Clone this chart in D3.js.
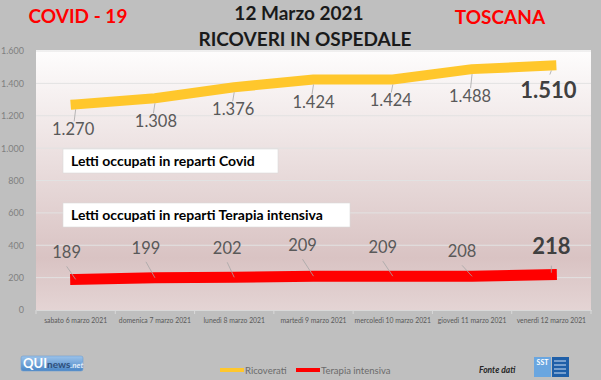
<!DOCTYPE html>
<html><head><meta charset="utf-8">
<script src="https://cdn.jsdelivr.net/npm/d3@7"></script>
<style>html,body{margin:0;padding:0;background:#bfbfbf;}svg{display:block;}</style>
</head><body>
<script>
const categories = ["sabato 6 marzo 2021","domenica 7 marzo 2021","lunedì 8 marzo 2021","martedì 9 marzo 2021","mercoledì 10 marzo 2021","giovedì 11 marzo 2021","venerdì 12 marzo 2021"];
const ricoverati = [1270,1308,1376,1424,1424,1488,1510];
const terapiaIntensiva = [189,199,202,209,209,208,218];
const yTicks = [0,200,400,600,800,1000,1200,1400,1600];
const seriesNames = ["Ricoverati","Terapia intensiva"];
const titleLines = ["12 Marzo 2021","RICOVERI IN OSPEDALE"];
const boxTexts = ["Letti occupati in reparti Covid","Letti occupati in reparti Terapia intensiva"];

const W=601,H=380;
const F="Lato, 'Open Sans', sans-serif";
const svg=d3.select("body").append("svg").attr("width",W).attr("height",H);
svg.append("rect").attr("width",W).attr("height",H).attr("fill","#bfbfbf");

const defs=svg.append("defs");
const g1=defs.append("linearGradient").attr("id","bg").attr("x1",0).attr("y1",0).attr("x2",0).attr("y2",1);
g1.append("stop").attr("offset","0%").attr("stop-color","#fefdfd");
g1.append("stop").attr("offset","35%").attr("stop-color","#eee4e4");
g1.append("stop").attr("offset","80%").attr("stop-color","#d9c3c3");
g1.append("stop").attr("offset","100%").attr("stop-color","#e4d4d4");
const g2=defs.append("linearGradient").attr("id","logo").attr("x1",0).attr("y1",0).attr("x2",0).attr("y2",1);
g2.append("stop").attr("offset","0%").attr("stop-color","#9cc3ea");
g2.append("stop").attr("offset","100%").attr("stop-color","#4a86c6");

const x0=36,x1=591,yTop=50,yBot=310;
const x=d3.scaleBand().domain(categories).range([x0,x1]);
const y=d3.scaleLinear().domain([0,1600]).range([yBot,yTop+1]);
const fmt=d3.formatLocale({decimal:",",thousands:".",grouping:[3],currency:["€",""]}).format(",d");

svg.append("rect").attr("x",x0).attr("y",yTop).attr("width",x1-x0).attr("height",yBot-yTop).attr("fill","url(#bg)");

// grid
svg.append("g").selectAll("line").data(yTicks.filter(d=>d>0)).join("line")
 .attr("x1",x0).attr("x2",x1).attr("y1",d=>y(d)).attr("y2",d=>y(d))
 .attr("stroke","#e2e2e2").attr("stroke-width",1);

// y axis
const ya=svg.append("g").attr("transform",`translate(${x0},0)`).call(d3.axisLeft(y).tickValues(yTicks).tickFormat(fmt).tickSize(0).tickPadding(12));
ya.select(".domain").remove();
ya.selectAll("text").attr("font-family",F).attr("font-size",9).attr("fill","#7f7f7f");

// x axis
const xa=svg.append("g").attr("transform",`translate(0,${yBot})`).call(d3.axisBottom(x).tickSize(0).tickPadding(8));
xa.select(".domain").attr("stroke","#d9d9d9");
xa.selectAll("text").attr("font-family",F).attr("font-size",6.8).attr("fill","#595959");
svg.append("g").selectAll("line").data(d3.range(categories.length+1)).join("line")
 .attr("x1",i=>x0+i*x.step()).attr("x2",i=>x0+i*x.step()).attr("y1",yBot).attr("y2",yBot+4).attr("stroke","#d9d9d9");

const cx=c=>x(c)+x.bandwidth()/2;
const line=d3.line().x((d,i)=>cx(categories[i])).y(d=>y(d));
svg.append("path").datum(ricoverati).attr("d",line).attr("fill","none").attr("stroke","#ffc72c").attr("stroke-width",10).attr("stroke-linecap","square").attr("stroke-linejoin","round");
svg.append("path").datum(terapiaIntensiva).attr("d",line).attr("fill","none").attr("stroke","#ff0000").attr("stroke-width",11).attr("stroke-linecap","square").attr("stroke-linejoin","round");

// labels Ricoverati (below)
const rOff=[[-2.5,31],[1,29],[-1,28],[0,29],[-2,27],[-2,33],[-3,32]];
ricoverati.forEach((v,i)=>{
  const px=cx(categories[i]),py=y(v);
  const last=i===ricoverati.length-1;
  const lx=px+rOff[i][0], ly=py+rOff[i][1];
  svg.append("line").attr("x1",px).attr("y1",py+5).attr("x2",px-1.5).attr("y2",last?py+9:ly-14).attr("stroke","#a6a6a6").attr("stroke-width",0.8);
  svg.append("text").attr("x",lx).attr("y",ly).attr("text-anchor","middle")
   .attr("font-family",F).attr("font-size",last?22:16.5).attr("font-weight",last?"bold":"normal")
   .attr("fill",last?"#404040":"#595959").text(fmt(v));
});
// labels Terapia intensiva (above, left)
const tOff=[[-9,-21],[-9,-24],[-7,-23],[-11,-25],[-10,-23],[-10,-19],[0,-21]];
terapiaIntensiva.forEach((v,i)=>{
  const px=cx(categories[i]),py=y(v);
  const last=i===terapiaIntensiva.length-1;
  const lx=px+tOff[i][0], ly=py+tOff[i][1];
  if(last){
    svg.append("line").attr("x1",px).attr("y1",py-2).attr("x2",px).attr("y2",py-9).attr("stroke","#a6a6a6").attr("stroke-width",0.8);
  } else {
    svg.append("line").attr("x1",px).attr("y1",py).attr("x2",lx).attr("y2",ly+8).attr("stroke","#a6a6a6").attr("stroke-width",0.8);
  }
  svg.append("text").attr("x",lx).attr("y",ly).attr("text-anchor","middle")
   .attr("font-family",F).attr("font-size",last?22:16.5).attr("font-weight",last?"bold":"normal")
   .attr("fill",last?"#404040":"#595959").text(v);
});

// text boxes
const boxes=[{x:63,y:149,w:215,h:24},{x:63,y:203,w:287,h:24}];
boxes.forEach((b,i)=>{
  svg.append("rect").attr("x",b.x).attr("y",b.y).attr("width",b.w).attr("height",b.h).attr("fill","#ffffff").attr("stroke","#d9d9d9").attr("stroke-width",0.6);
  svg.append("text").attr("x",b.x+8).attr("y",b.y+17).attr("font-family",F).attr("font-size",14).attr("font-weight","bold").attr("fill","#000").text(boxTexts[i]);
});

// titles
svg.append("text").attr("x",299).attr("y",20).attr("text-anchor","middle").attr("font-family",F).attr("font-weight","bold").attr("font-size",19).attr("fill","#1a1a1a").text(titleLines[0]);
svg.append("text").attr("x",305).attr("y",46).attr("text-anchor","middle").attr("font-family",F).attr("font-weight","bold").attr("font-size",19).attr("fill","#1a1a1a").text(titleLines[1]);
svg.append("text").attr("x",78).attr("y",23).attr("text-anchor","middle").attr("font-family",F).attr("font-weight","bold").attr("font-size",19).attr("fill","#ff0000").text("COVID - 19");
svg.append("text").attr("x",500).attr("y",24).attr("text-anchor","middle").attr("font-family",F).attr("font-weight","bold").attr("font-size",19).attr("fill","#ff0000").text("TOSCANA");

// legend
const leg=[{c:"#ffc72c",x:220},{c:"#ff0000",x:296}];
leg.forEach((l,i)=>{
  svg.append("rect").attr("x",l.x).attr("y",368).attr("width",24).attr("height",4).attr("fill",l.c);
  svg.append("text").attr("x",l.x+25).attr("y",373.5).attr("font-family",F).attr("font-size",9.5).attr("fill","#6b6b6b").text(seriesNames[i]);
});

// logos
svg.append("rect").attr("x",21).attr("y",356).attr("width",62).attr("height",15).attr("rx",2).attr("fill","url(#logo)").attr("stroke","#6f9fd0").attr("stroke-width",0.6);
const lt=svg.append("text").attr("x",23).attr("y",368).attr("font-family",F).attr("font-weight","bold").attr("fill","#ffffff");
lt.append("tspan").attr("font-size",13).text("QUI");
lt.append("tspan").attr("font-size",10).attr("fill","#2f4f7a").text("news");
lt.append("tspan").attr("font-size",8).attr("font-style","italic").attr("fill","#e0ecf8").text(".net");

svg.append("text").attr("x",479).attr("y",373).attr("font-family",F).attr("font-style","italic").attr("font-weight","bold").attr("font-size",8.5).attr("fill","#262626").text("Fonte dati");
svg.append("rect").attr("x",534).attr("y",357).attr("width",17).attr("height",20).attr("fill","#6aa6e0");
svg.append("rect").attr("x",552).attr("y",357).attr("width",17).attr("height",20).attr("fill","#1f5fa8");
svg.append("text").attr("x",542.5).attr("y",365).attr("text-anchor","middle").attr("font-family",F).attr("font-weight","bold").attr("font-size",7).attr("fill","#fff").text("SST");
[361,365,369,373].forEach(yy=>svg.append("line").attr("x1",554).attr("x2",566).attr("y1",yy).attr("y2",yy).attr("stroke","#cfe0f5").attr("stroke-width",1));
</script>
</body></html>
